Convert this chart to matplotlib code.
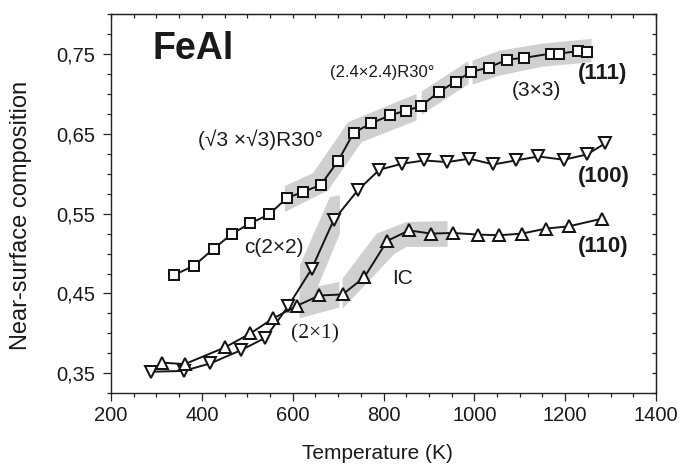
import matplotlib
matplotlib.use('Agg')
import matplotlib.pyplot as plt
from matplotlib.ticker import MultipleLocator
import numpy as np

plt.rcParams['font.family'] = ['Liberation Sans', 'DejaVu Sans']

# ---------------- data ----------------
T_111 = [338, 382, 426, 467, 507, 548, 587, 622, 662, 700, 734, 772, 814, 849, 882,
         922, 959, 992, 1032, 1073, 1109, 1169, 1187, 1228, 1247]
c_111 = [0.473, 0.4845, 0.506, 0.525, 0.538, 0.549, 0.5695, 0.577, 0.586, 0.616,
         0.651, 0.663, 0.673, 0.679, 0.6845, 0.7025, 0.7154, 0.7275, 0.733, 0.743,
         0.745, 0.7505, 0.7505, 0.7535, 0.753]

T_100 = [288, 360, 419, 486, 540, 590, 642, 690, 743, 791, 841, 890, 940, 989, 1042,
         1091, 1141, 1197, 1248, 1288]
c_100 = [0.352, 0.353, 0.3625, 0.379, 0.3945, 0.434, 0.481, 0.5416, 0.579, 0.605,
         0.6125, 0.6166, 0.6145, 0.6188, 0.6116, 0.6166, 0.6216, 0.6175, 0.6241, 0.638]

T_110 = [312, 362, 451, 507, 557, 609, 659, 710, 758, 808, 856, 905, 953, 1007, 1054,
         1105, 1158, 1208, 1282]
c_110 = [0.3635, 0.3615, 0.3825, 0.400, 0.4188, 0.4345, 0.4475, 0.4488, 0.4705, 0.5158,
         0.529, 0.525, 0.5258, 0.5238, 0.5229, 0.525, 0.5313, 0.5341, 0.5438]

# shaded phase regions (polygons, data coords)
band_sqrt3_T = [583, 645, 722, 873, 873, 752, 678, 583]
band_sqrt3_c = [0.5845, 0.6008, 0.6645, 0.700, 0.6666, 0.6395, 0.5791, 0.552]
band_24_T = [884, 987, 987, 884]
band_24_c = [0.703, 0.741, 0.712, 0.674]
band_3x3_T = [996, 1056, 1150, 1258, 1258, 1150, 1056, 996]
band_3x3_c = [0.7416, 0.7541, 0.763, 0.7688, 0.7396, 0.734, 0.7229, 0.7116]
band_c2x2_T = [682, 704, 704, 653, 616, 616]
band_c2x2_c = [0.5708, 0.5729, 0.525, 0.455, 0.455, 0.4854]
band_2x1_T = [615, 703, 703, 615]
band_2x1_c = [0.4541, 0.4645, 0.4325, 0.4188]
band_IC_T = [710, 785, 851, 941, 941, 851, 825, 710]
band_IC_c = [0.4688, 0.525, 0.5395, 0.5408, 0.5083, 0.5083, 0.500, 0.431]

x_ticks = [200, 400, 600, 800, 1000, 1200, 1400]
y_ticks = [0.35, 0.45, 0.55, 0.65, 0.75]
y_ticklabels = ['0,35', '0,45', '0,55', '0,65', '0,75']

# ---------------- figure ----------------
fig = plt.figure(figsize=(6.81, 4.65), dpi=100)
ax = fig.add_axes([111/681, 1-393.3/465, 545/681, (393.3-14)/465])

band_color = '#d0d0d0'
for bt, bc in [(band_sqrt3_T, band_sqrt3_c), (band_24_T, band_24_c),
               (band_3x3_T, band_3x3_c), (band_c2x2_T, band_c2x2_c),
               (band_2x1_T, band_2x1_c), (band_IC_T, band_IC_c)]:
    ax.fill(bt, bc, color=band_color, lw=0, zorder=1)

line_kw = dict(color='#151515', lw=1.4, mfc='white', mec='#151515', mew=1.45, zorder=3)
ax.plot(T_111, c_111, marker='s', ms=6.8, **line_kw)
ax.plot(T_100, c_100, marker='v', ms=8.6, **line_kw)
ax.plot(T_110, c_110, marker='^', ms=8.6, **line_kw)

ax.set_xlim(200, 1400)
ax.set_ylim(0.325, 0.80)
ax.set_xticks(x_ticks)
ax.set_xticklabels([str(t) for t in x_ticks])
ax.set_yticks(y_ticks)
ax.set_yticklabels(y_ticklabels)
ax.xaxis.set_minor_locator(MultipleLocator(50))
ax.yaxis.set_minor_locator(MultipleLocator(0.025))
ax.tick_params(which='major', direction='out', length=5.5, width=0.9,
               labelsize=14.5, color='#222222', labelcolor='#1a1a1a')
ax.tick_params(which='minor', direction='out', length=3.2, width=0.9, color='#222222')
ax.tick_params(axis='y', which='major', pad=6)
ax.tick_params(axis='x', which='major', pad=4)

for s in ax.spines.values():
    s.set_linewidth(1.0)
    s.set_color('#222222')

sx = ax.secondary_xaxis('top')
sx.set_xticks(np.arange(200, 1401, 50))
sx.tick_params(direction='in', length=3, width=0.9, labeltop=False, color='#222222')
sx.set_xticklabels([])
sy = ax.secondary_yaxis('right')
sy.set_yticks(np.arange(0.325, 0.801, 0.025))
sy.tick_params(direction='in', length=3, width=0.9, labelright=False, color='#222222')
sy.set_yticklabels([])

ax.set_xlabel('Temperature (K)', fontsize=15, color='#1a1a1a')
ax.set_ylabel('Near-surface composition', fontsize=17, color='#1a1a1a')
ax.xaxis.set_label_coords(0.488, -0.134)
ax.yaxis.set_label_coords(-0.145, 0.47)

tc = '#1a1a1a'
ax.text(380, 0.7566, 'FeAl', fontsize=27, fontweight='bold', ha='center', va='center', color=tc)
ax.text(1283, 0.726, '(111)', fontsize=16, fontweight='bold', ha='center', va='center', color=tc)
ax.text(1285, 0.596, '(100)', fontsize=16, fontweight='bold', ha='center', va='center', color=tc)
ax.text(1283, 0.509, '(110)', fontsize=16, fontweight='bold', ha='center', va='center', color=tc)
ax.text(530, 0.643, '(\u221a3 \u00d7\u221a3)R30\u00b0', fontsize=15, ha='center', va='center', color=tc)
ax.text(797, 0.727, '(2.4\u00d72.4)R30\u00b0', fontsize=12, ha='center', va='center', color=tc)
ax.text(1137, 0.704, '(3\u00d73)', fontsize=15, ha='center', va='center', color=tc)
ax.text(559, 0.507, 'c(2\u00d72)', fontsize=15, ha='center', va='center', color=tc)
ax.text(841, 0.469, 'IC', fontsize=15, ha='center', va='center', color=tc)
ax.text(650, 0.400, '(2\u00d71)', fontsize=15.5, ha='center', va='center', color=tc,
        family=['Liberation Serif', 'DejaVu Serif'])

fig.savefig('out.png', dpi=100)
